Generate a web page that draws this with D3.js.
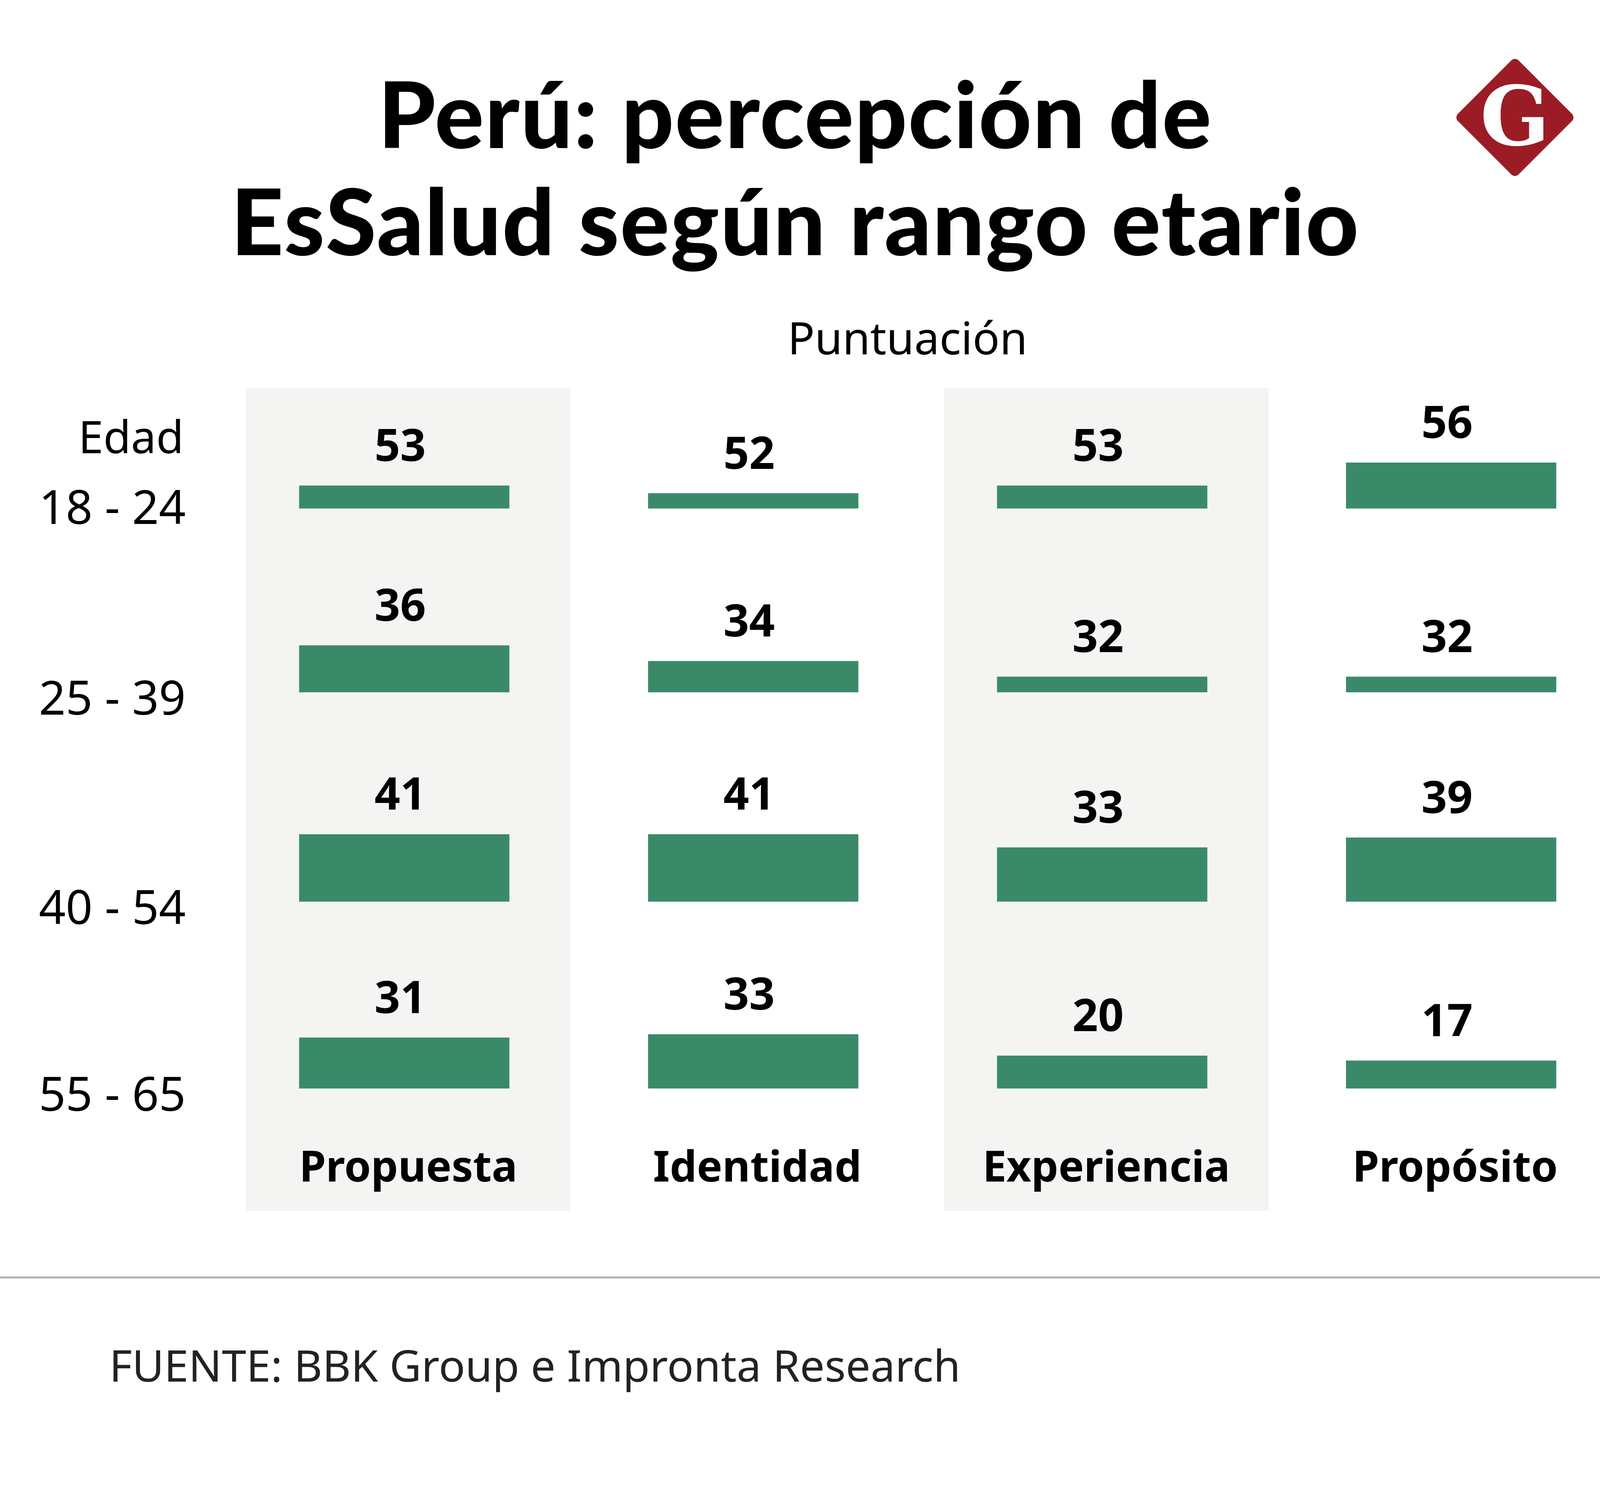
<!DOCTYPE html>
<html lang="es">
<head>
<meta charset="utf-8">
<style>
  html, body {margin: 0; padding: 0; background: #fff;}
  svg {display: block;}
</style>
</head>
<body>
<div id="chart"></div>
<script src="https://cdnjs.cloudflare.com/ajax/libs/d3/7.8.5/d3.min.js"></script>
<script>
  var categories = ['Propuesta', 'Identidad', 'Experiencia', 'Propósito'];
  var ageGroups = ['18 - 24', '25 - 39', '40 - 54', '55 - 65'];
  // scores, one array per age group, in category order
  var row1824 = [53, 52, 53, 56];
  var row2539 = [36, 34, 32, 32];
  var row4054 = [41, 41, 33, 39];
  var row5565 = [31, 33, 20, 17];
  var rows = [row1824, row2539, row4054, row5565];
  // each row in the original starts its bars from a different score
  var rowBase = [50, 30, 0, 0];
  var rowTop = [56, 36, 41, 41];

  var W = 1588, H = 1469;
  var svg = d3.select('#chart').append('svg')
    .attr('width', 4150).attr('height', 3839)
    .attr('viewBox', '0 0 ' + W + ' ' + H);

  var green = '#3a8a6a', font = '"Noto Sans", sans-serif';

  // title
  var title = svg.append('text').attr('text-anchor', 'middle')
    .style('font-family', 'Lato, sans-serif').style('font-weight', 900)
    .style('font-size', '90px').style('letter-spacing', '1px').attr('fill', '#000');
  title.append('tspan').attr('x', 779).attr('y', 145).text('Perú: percepción de');
  title.append('tspan').attr('x', 779).attr('y', 250).text('EsSalud según rango etario');

  // logo
  var logo = svg.append('g').attr('transform', 'translate(1484,115)');
  logo.append('rect').attr('x', -42).attr('y', -42).attr('width', 84).attr('height', 84)
    .attr('rx', 5).attr('transform', 'rotate(45)').attr('fill', '#9b1c24');
  logo.append('text').attr('text-anchor', 'middle').attr('y', 27)
    .style('font-family', '"DejaVu Serif", serif').style('font-weight', 'bold')
    .style('font-size', '80px').attr('fill', '#fff').text('G');

  svg.append('text').attr('x', 889).attr('y', 347).attr('text-anchor', 'middle')
    .style('font-family', font).style('font-size', '44px').text('Puntuación');

  var x = d3.scaleBand().domain(categories).range([241, 1581]).paddingInner(0.08).paddingOuter(0);
  var barW = 206;
  var baselines = d3.scaleOrdinal().domain(ageGroups).range([498, 678, 883, 1066]);

  // shaded columns
  svg.selectAll('rect.bg').data([categories[0], categories[2]]).enter().append('rect')
    .attr('class', 'bg').attr('x', function (d) { return x(d); }).attr('y', 380)
    .attr('width', 318).attr('height', 806).attr('fill', '#f4f5f2');

  var barX = function (c) { return x(c) + 52; };

  rows.forEach(function (vals, i) {
    var base = baselines(ageGroups[i]);
    var hMax = [45, 46, 66, 66][i];
    var y = d3.scaleLinear().domain([rowBase[i], rowTop[i]]).range([base, base - hMax]);
    var g = svg.append('g');
    g.selectAll('rect').data(vals).enter().append('rect')
      .attr('x', function (d, j) { return barX(categories[j]); })
      .attr('y', function (d) { return y(d); })
      .attr('width', barW)
      .attr('height', function (d) { return base - y(d); })
      .attr('fill', green);
    g.selectAll('text').data(vals).enter().append('text')
      .attr('x', function (d, j) { return barX(categories[j]) + barW / 2 - 4; })
      .attr('y', function (d) { return y(d) - 24; })
      .attr('text-anchor', 'middle')
      .style('font-family', font).style('font-weight', 'bold').style('font-size', '44px')
      .text(function (d) { return d; });
    svg.append('text').attr('x', 182).attr('y', base + 15 + (i > 0 ? 7 : 0)).attr('text-anchor', 'end')
      .style('font-family', font).style('font-size', '46px').text(ageGroups[i]);
  });

  svg.append('text').attr('x', 180).attr('y', 444).attr('text-anchor', 'end')
    .style('font-family', font).style('font-size', '44px').text('Edad');

  svg.selectAll('text.cat').data(categories).enter().append('text')
    .attr('class', 'cat')
    .attr('x', function (d) { return barX(d) + barW / 2 + 4; }).attr('y', 1157)
    .attr('text-anchor', 'middle')
    .style('font-family', font).style('font-weight', 'bold').style('font-size', '42px')
    .text(function (d) { return d; });

  svg.append('line').attr('x1', 0).attr('x2', W).attr('y1', 1251).attr('y2', 1251)
    .attr('stroke', '#b3b3b3').attr('stroke-width', 2);

  svg.append('text').attr('x', 107).attr('y', 1353)
    .style('font-family', font).style('font-size', '43px').attr('fill', '#222')
    .text('FUENTE: BBK Group e Impronta Research');
</script>
</body>
</html>
